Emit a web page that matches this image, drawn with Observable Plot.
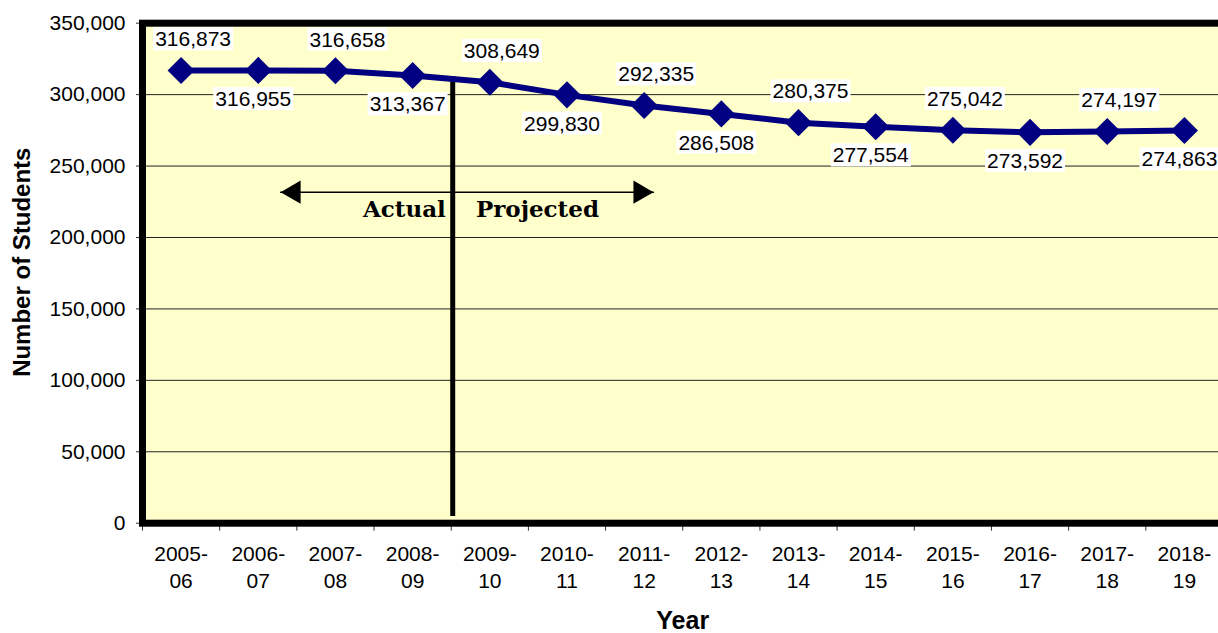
<!DOCTYPE html>
<html>
<head>
<meta charset="utf-8">
<script src="https://cdn.jsdelivr.net/npm/d3@7"></script>
<script src="https://cdn.jsdelivr.net/npm/@observablehq/plot@0.6"></script>
<style>
html, body { margin: 0; padding: 0; background: #fff; overflow: hidden; }
svg { display: block; max-width: none !important; }
</style>
</head>
<body>
<script>
const years = ["2005-06","2006-07","2007-08","2008-09","2009-10","2010-11","2011-12","2012-13","2013-14","2014-15","2015-16","2016-17","2017-18","2018-19"];
const students = [316873, 316955, 316658, 313367, 308649, 299830, 292335, 286508, 280375, 277554, 275042, 273592, 274197, 274863];
const yTicks = [0, 50000, 100000, 150000, 200000, 250000, 300000, 350000];
const dividerYears = ["2008-09", "2009-10"];
const annotationLabels = ["Actual", "Projected"];

const rows = years.map((year, i) => ({i, year, value: students[i]}));
const divider = (years.indexOf(dividerYears[0]) + years.indexOf(dividerYears[1])) / 2;
const bandEdges = d3.range(-0.5, years.length, 1);
const font = "'Liberation Sans', Arial, sans-serif";
const navy = "#000080";

const chart = Plot.plot({
  width: 1226,
  height: 633,
  marginLeft: 142,
  marginRight: 3.5,
  marginTop: 22.7,
  marginBottom: 110.3,
  style: {fontFamily: font, background: "#fff", color: "#000"},
  x: {type: "linear", domain: [-0.5, years.length - 0.5]},
  y: {domain: [0, 350000]},
  marks: [
    Plot.frame({fill: "#FFFFCC"}),
    Plot.gridY(yTicks, {stroke: "#222", strokeOpacity: 1, strokeWidth: 1}),
    // Actual / projected divider
    Plot.ruleX([divider], {y1: 4700, y2: 312700, dx: 1.5, stroke: "#000", strokeWidth: 5}),
    Plot.line([{x: 1.29, y: 231700}, {x: 6.12, y: 231700}], {x: "x", y: "y", stroke: "#000", strokeWidth: 1.5}),
    Plot.dot([{x: 1.29, y: 231700}], {x: "x", y: "y", symbol: "triangle", r: 8.6, rotate: -90, dx: 13.3, fill: "#000", stroke: null}),
    Plot.dot([{x: 6.12, y: 231700}], {x: "x", y: "y", symbol: "triangle", r: 8.6, rotate: 90, dx: -13.3, fill: "#000", stroke: null}),
    Plot.text([annotationLabels[0]], {x: divider - 0.07, y: 219500, text: d => d, textAnchor: "end", fontFamily: "'DejaVu Serif', serif", fontWeight: "bold", fontSize: 23, fill: "#000"}),
    Plot.text([annotationLabels[1]], {x: divider + 0.32, y: 219500, text: d => d, textAnchor: "start", fontFamily: "'DejaVu Serif', serif", fontWeight: "bold", fontSize: 23, fill: "#000"}),
    // series
    Plot.line(rows, {x: "i", y: "value", stroke: navy, strokeWidth: 6}),
    Plot.dot(rows, {x: "i", y: "value", symbol: "diamond2", r: 12.2, fill: navy, stroke: null}),
    Plot.text(rows.filter(d => d.i % 2 === 0), {x: "i", y: "value", text: d => d3.format(",")(d.value), dx: 12, dy: -31, fontSize: 21, fill: "#000", className: "lbl"}),
    Plot.text(rows.filter(d => d.i % 2 === 1), {x: "i", y: "value", text: d => d3.format(",")(d.value), dx: -5, dy: 29, fontSize: 21, fill: "#000", className: "lbl"}),
    // axes
    Plot.axisY(yTicks, {tickFormat: d3.format(","), tickSize: 6, tickPadding: 11, fontSize: 21, stroke: "#333", fill: "#000", label: null}),
    Plot.axisX(bandEdges, {tickFormat: () => "", tickSize: 8, stroke: "#333", label: null}),
    Plot.axisX(d3.range(years.length), {tickFormat: i => years[i].replace("-", "-\n"), tickSize: 0, tickPadding: 18, fontSize: 21, lineHeight: 1.3, fill: "#000", label: null}),
    Plot.frame({stroke: "#000", strokeWidth: 7}),
    Plot.text(["Number of Students"], {frameAnchor: "left", dx: -120, dy: -11, rotate: -90, textAnchor: "middle", lineAnchor: "middle", fontWeight: "bold", fontSize: 24, fill: "#000"}),
    Plot.text(["Year"], {frameAnchor: "bottom", dy: 98, lineAnchor: "middle", fontWeight: "bold", fontSize: 25, fill: "#000"})
  ]
});

document.body.appendChild(chart);

// white boxes behind data labels
d3.select(chart).selectAll("g.lbl text").each(function() {
  const b = this.getBBox();
  const r = document.createElementNS("http://www.w3.org/2000/svg", "rect");
  r.setAttribute("x", b.x - 2);
  r.setAttribute("y", b.y);
  r.setAttribute("width", b.width + 4);
  r.setAttribute("height", b.height);
  r.setAttribute("fill", "#fff");
  const t = this.getAttribute("transform");
  if (t) r.setAttribute("transform", t);
  this.parentNode.insertBefore(r, this);
});
</script>
</body>
</html>
